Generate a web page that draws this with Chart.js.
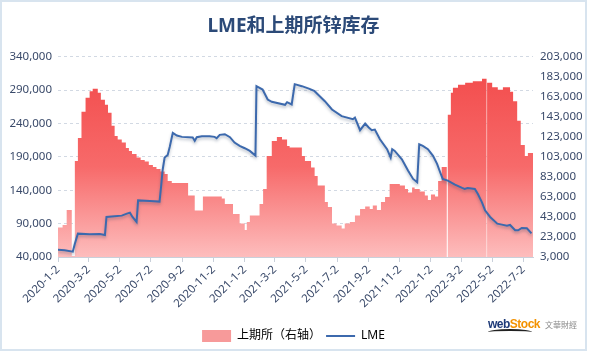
<!DOCTYPE html>
<html>
<head>
<meta charset="utf-8">
<script src="https://cdn.jsdelivr.net/npm/chart.js@4.4.1/dist/chart.umd.min.js"></script>
<style>
  html, body { margin: 0; padding: 0; background: #fff; }
  .frame { position: relative; width: 583px; height: 347px; border: 2px solid #d8e4ef; }
  canvas { display: block; }
  .logo { position: absolute; left: 486px; top: 314px; font-family: "Liberation Sans", sans-serif; white-space: nowrap; line-height: 14px; }
  .logo .web { color: #1e3a78; font-weight: bold; font-size: 12px; letter-spacing: -0.5px; }
  .logo .stock { color: #f39200; font-weight: bold; font-size: 12px; letter-spacing: -0.5px; }
  .logo .cn { color: #8a8a8a; font-size: 8px; margin-left: 5px; font-family: "Noto Sans CJK TC", sans-serif; }
  .logo .swoosh { position: absolute; left: 0px; top: 13px; width: 44px; height: 4px; border-top: 2px solid #222; border-radius: 50% 50% 0 0; }
</style>
</head>
<body>
<div class="frame">
  <canvas id="chart" width="583" height="347"></canvas>
  <div class="logo"><span class="web">web</span><span class="stock">Stock</span><span class="cn">文華財經</span><div class="swoosh"></div></div>
</div>
<script>
// x tick labels (every two months)
const tickLabels = ['2020-1-2', '2020-3-2', '2020-5-2', '2020-7-2', '2020-9-2', '2020-11-2',
  '2021-1-2', '2021-3-2', '2021-5-2', '2021-7-2', '2021-9-2', '2021-11-2',
  '2022-1-2', '2022-3-2', '2022-5-2', '2022-7-2']

// 上期所 (SHFE) stocks, tons: day offset from 2020-1-2 where each level starts
const shfeDay = [0, 9, 17, 27, 33, 39, 46, 54, 62, 68, 78, 84, 92, 98, 105, 111, 117, 125, 133, 139,
  145, 154, 162, 170, 178, 186, 193, 201, 209, 215, 223, 255, 268, 284, 321, 327, 343, 356, 366, 370,
  376, 395, 402, 409, 419, 429, 439, 449, 454, 478, 484, 496, 503, 509, 523, 529, 537, 546, 556, 562,
  572, 582, 592, 602, 611, 617, 625, 633, 641, 650, 670, 680, 686, 694, 699, 709, 719, 725, 731, 739,
  745, 752, 762, 764, 770, 774, 784, 798, 813, 831, 840, 841, 851, 862, 872, 886, 892, 900, 907, 915,
  921, 931]
const shfeStock = [32500, 35000, 50000, 4000, 99000, 122000, 148000, 162000, 168500, 171000, 167000, 160000, 155000, 147000, 134000, 124000, 120500, 117500, 112000, 109000,
  106000, 102500, 100000, 98500, 95000, 93000, 91000, 88500, 86000, 79000, 77000, 64500, 49500, 63500, 61500, 56000, 46000, 36500, 30000, 38000,
  44500, 56000, 71000, 104000, 119000, 123000, 120500, 114000, 112500, 104000, 99000, 92500, 84000, 74500, 58000, 53000, 36500, 34500, 31500, 36500,
  38000, 44500, 51000, 53500, 51000, 54500, 50000, 58000, 63000, 76000, 74500, 71000, 67500, 72500, 71000, 68500, 64500, 60000, 65500, 63500,
  79000, 93000, 3000, 145000, 167000, 172000, 175000, 177000, 178500, 181000, 3000, 177000, 172500, 170000, 172500, 168000, 158500, 139000, 115000, 104000,
  107000, 107000]

// LME stocks, tons
const lmeDay = [0, 13, 29, 33, 39, 62, 82, 92, 95, 111, 125, 135, 141, 146, 154, 157, 180, 199, 202, 205,
  209, 215, 219, 225, 233, 243, 264, 268, 272, 282, 297, 307, 311, 317, 327, 337, 346, 356, 366, 376,
  387, 389, 401, 411, 419, 445, 449, 458, 464, 478, 493, 503, 509, 523, 537, 556, 578, 582, 592, 602,
  609, 615, 621, 631, 645, 652, 655, 660, 674, 686, 696, 704, 708, 715, 725, 735, 743, 749, 754, 764,
  778, 792, 797, 803, 817, 823, 831, 837, 847, 861, 870, 880, 886, 896, 902, 909, 919, 928]
const lmeStock = [51000, 50000, 48000, 60000, 75000, 74000, 74500, 73000, 100000, 101000, 102000, 105000, 106500, 100000, 92500, 124800, 124000, 123000, 145000, 170000,
  189000, 193000, 205000, 226000, 222000, 220000, 219000, 214000, 219500, 221000, 221000, 220000, 218000, 223000, 224000, 219500, 211500, 206500, 203000, 199000,
  192000, 296000, 291000, 276000, 272500, 268000, 272000, 268600, 299000, 296000, 292000, 288500, 284000, 273500, 261000, 251000, 246500, 249000, 230000, 240000,
  234000, 230000, 231000, 216500, 201500, 189000, 201500, 199000, 186500, 169500, 157000, 152000, 209000, 206500, 201500, 191500, 179500, 167000, 157000, 154500,
  148500, 143500, 142000, 143500, 142000, 134500, 122000, 110000, 100000, 90000, 88500, 87000, 88000, 80000, 80000, 83500, 83000, 75500]

const FONT = '"Noto Sans", "Noto Sans CJK SC", sans-serif'
const textColor = '#3a4a6a'
const dayMs = 86400000
const start = Date.UTC(2020, 0, 2)
const tickDays = tickLabels.map(s => {
  const [y, m, d] = s.split('-').map(Number)
  return Math.round((Date.UTC(y, m - 1, d) - start) / dayMs)
})
const fmt = v => Number(v).toLocaleString('en-US')

Chart.defaults.font.family = FONT

function shfeFill(context) {
  const { ctx, chartArea } = context.chart
  if (!chartArea) return '#f88'
  const g = ctx.createLinearGradient(0, chartArea.top, 0, chartArea.bottom)
  g.addColorStop(0, '#f24848')
  g.addColorStop(0.55, '#f76a6a')
  g.addColorStop(1, '#fdbdbd')
  return g
}

const lineShadow = {
  id: 'lineShadow',
  beforeDatasetDraw(chart, args) {
    if (args.index !== 1) return
    const ctx = chart.ctx
    ctx.save()
    ctx.shadowColor = 'rgba(50, 70, 100, 0.35)'
    ctx.shadowBlur = 3
    ctx.shadowOffsetY = 2
  },
  afterDatasetDraw(chart, args) {
    if (args.index === 1) chart.ctx.restore()
  }
}

new Chart(document.getElementById('chart'), {
  type: 'line',
  data: {
    datasets: [
      {
        label: '上期所（右轴）',
        data: shfeDay.map((d, i) => ({ x: d, y: shfeStock[i] })),
        yAxisID: 'y1',
        stepped: true,
        fill: 'start',
        backgroundColor: shfeFill,
        borderWidth: 0,
        pointRadius: 0,
        order: 1
      },
      {
        label: 'LME',
        data: lmeDay.map((d, i) => ({ x: d, y: lmeStock[i] })),
        yAxisID: 'y',
        borderColor: '#3c69ad',
        borderWidth: 2,
        pointRadius: 0,
        tension: 0,
        fill: false,
        order: 0
      }
    ]
  },
  options: {
    responsive: false,
    animation: false,
    layout: { padding: { left: 0, right: 0, top: 0, bottom: -3 } },
    plugins: {
      title: {
        display: true,
        text: 'LME和上期所锌库存',
        color: '#2c4a78',
        font: { size: 19, weight: 'bold', family: FONT },
        padding: { top: 13, bottom: 19 }
      },
      legend: {
        position: 'bottom',
        labels: {
          usePointStyle: true,
          pointStyleWidth: 29,
          boxHeight: 12,
          padding: 5,
          color: '#2f3d55',
          font: { size: 12 },
          generateLabels: () => [
            { text: '上期所（右轴）', fillStyle: '#f79a9a', strokeStyle: '#f79a9a', lineWidth: 0, pointStyle: 'rect', datasetIndex: 0 },
            { text: 'LME', fillStyle: '#3c69ad', strokeStyle: '#3c69ad', lineWidth: 2, pointStyle: 'line', datasetIndex: 1 }
          ]
        }
      },
      tooltip: { enabled: false }
    },
    scales: {
      x: {
        type: 'linear',
        min: 0,
        max: 931,
        afterBuildTicks: s => { s.ticks = tickDays.map(v => ({ value: v })) },
        afterFit: s => { s.height = 68 },
        ticks: {
          autoSkip: false,
          minRotation: 45,
          maxRotation: 45,
          padding: 1,
          color: textColor,
          font: { size: 11.5 },
          callback: (v, i) => tickLabels[i]
        },
        grid: { drawOnChartArea: false, tickLength: 5, color: '#c9d0da' },
        border: { color: '#c9d0da' }
      },
      y: {
        position: 'left',
        min: 40000,
        max: 340000,
        afterFit: s => { s.width = 56 },
        ticks: { stepSize: 50000, padding: 6, color: textColor, font: { size: 11.5 }, callback: fmt },
        grid: { color: '#d2d9e3', drawTicks: false },
        border: { display: false, dash: [3, 3] }
      },
      y1: {
        position: 'right',
        min: 3000,
        max: 203000,
        afterFit: s => { s.width = 52 },
        ticks: { stepSize: 20000, padding: 7, color: textColor, font: { size: 11.5 }, callback: fmt },
        grid: { drawOnChartArea: false, drawTicks: false },
        border: { display: false }
      }
    }
  },
  plugins: [lineShadow]
})
</script>
</body>
</html>
